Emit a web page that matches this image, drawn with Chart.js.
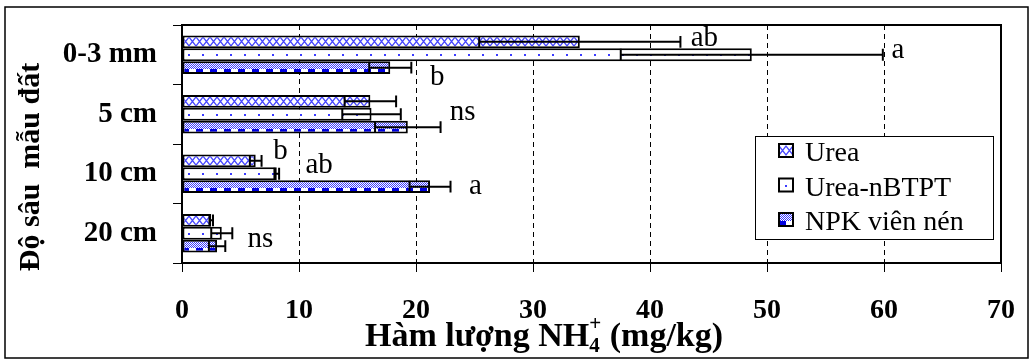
<!DOCTYPE html>
<html>
<head>
<meta charset="utf-8">
<script src="https://cdn.jsdelivr.net/npm/chart.js@4/dist/chart.umd.min.js"></script>
<style>
  html, body { margin: 0; padding: 0; background: #fff; }
  #wrap { width: 1032px; height: 363px; }
</style>
</head>
<body>
<div id="wrap"><canvas id="nh4Chart" width="1032" height="363"></canvas></div>
<script>
const depths = ["0-3 mm", "5 cm", "10 cm", "20 cm"];
const seriesNames = ["Urea", "Urea-nBTPT", "NPK viên nén"];
const ureaValues = [34.0, 16.1, 6.3, 2.5];
const nbtptValues = [48.7, 16.2, 8.1, 3.4];
const npkValues = [17.8, 19.3, 21.2, 3.0];
const ureaErrors = [8.6, 2.2, 0.5, 0.15];
const nbtptErrors = [11.2, 2.5, 0.2, 0.9];
const npkErrors = [1.8, 2.8, 1.75, 0.7];
const xTicks = [0, 10, 20, 30, 40, 50, 60, 70];
// significance letters: depth index, series index, letter
const letters = [[0, 0, "ab"], [0, 1, "a"], [0, 2, "b"], [1, 2, "ns"], [2, 0, "b"], [2, 1, "ab"], [2, 2, "a"], [3, 1, "ns"]];
// where each letter sits, relative to the end of its error bar (px)
const letterShift = [[24, -3], [15, -4], [26, 10], [22, -15], [19, -9], [40, -8], [25, 0], [28, 6]];

const SERIF = "'Liberation Serif', 'Times New Roman', serif";
const BLUE = '#3b3bff';

// pattern tiles
function tile(kind) {
  const c = document.createElement('canvas');
  c.width = 14; c.height = 13;
  const g = c.getContext('2d');
  g.fillStyle = '#fff';
  g.fillRect(0, 0, 14, 13);
  if (kind === 'cross') {
    g.strokeStyle = '#4646ff';
    g.lineWidth = 1.3;
    g.beginPath();
    g.moveTo(0, 2); g.lineTo(7, 11); g.lineTo(14, 2);
    g.moveTo(0, 11); g.lineTo(7, 2); g.lineTo(14, 11);
    g.stroke();
  } else if (kind === 'dots') {
    g.fillStyle = BLUE;
    g.fillRect(6, 6, 2, 2);
  } else {
    g.fillStyle = BLUE;
    for (let y = 0; y < 13; y++) {
      for (let x = 0; x < 14; x++) {
        if (y >= 8) {
          if (x < 7) g.fillRect(x, y, 1, 1);
        } else if ((x + y) % 2 === 0) {
          g.fillRect(x, y, 1, 1);
        }
      }
    }
    g.fillStyle = '#0000e0';
    g.fillRect(0, 8, 7, 5);
  }
  return c;
}
const tiles = { cross: tile('cross'), dots: tile('dots'), checks: tile('checks') };

function patternAt(ctx, kind, x, y) {
  const p = ctx.createPattern(tiles[kind], 'repeat');
  p.setTransform(new DOMMatrix().translate(Math.round(x), Math.round(y)));
  return p;
}

function barFill(kind) {
  return function(c) {
    const chart = c.chart;
    const ys = chart.scales.y;
    if (!ys || !chart.chartArea || c.dataIndex === undefined) return '#fff';
    const band = ys.getPixelForValue(1) - ys.getPixelForValue(0);
    const barH = band * 0.65 / 3;
    const top = ys.getPixelForValue(c.dataIndex) - band * 0.65 / 2 + c.datasetIndex * barH;
    return patternAt(chart.ctx, kind, chart.chartArea.left, top);
  };
}

const kinds = ['cross', 'dots', 'checks'];
const valueSets = [ureaValues, nbtptValues, npkValues];
const errorSets = [ureaErrors, nbtptErrors, npkErrors];

const datasets = seriesNames.map(function(name, i) {
  return {
    label: name,
    data: valueSets[i],
    errors: errorSets[i],
    backgroundColor: barFill(kinds[i]),
    borderColor: '#000',
    borderWidth: 2,
    borderSkipped: false,
    categoryPercentage: 0.65,
    barPercentage: 1.0
  };
});

const errorBars = {
  id: 'errorBars',
  afterDatasetsDraw(chart) {
    const ctx = chart.ctx, xs = chart.scales.x;
    ctx.save();
    ctx.strokeStyle = '#000';
    ctx.lineWidth = 2;
    chart.data.datasets.forEach(function(ds, i) {
      chart.getDatasetMeta(i).data.forEach(function(bar, j) {
        const v = ds.data[j], e = ds.errors[j];
        const lo = xs.getPixelForValue(v - e), hi = xs.getPixelForValue(v + e);
        const y = bar.y, h = bar.height / 2 - 0.5;
        ctx.beginPath();
        ctx.moveTo(lo, y); ctx.lineTo(hi, y);
        ctx.moveTo(lo, y - h); ctx.lineTo(lo, y + h);
        ctx.moveTo(hi, y - h); ctx.lineTo(hi, y + h);
        ctx.stroke();
      });
    });
    // letters
    ctx.fillStyle = '#000';
    ctx.font = '29px ' + SERIF;
    ctx.textAlign = 'center';
    ctx.textBaseline = 'middle';
    letters.forEach(function(l, k) {
      const ds = chart.data.datasets[l[1]];
      const bar = chart.getDatasetMeta(l[1]).data[l[0]];
      const end = xs.getPixelForValue(ds.data[l[0]] + ds.errors[l[0]]);
      ctx.fillText(l[2], end + letterShift[k][0], bar.y + letterShift[k][1]);
    });
    ctx.restore();
  }
};

const decorations = {
  id: 'decorations',
  afterDraw(chart) {
    const ctx = chart.ctx, a = chart.chartArea;
    ctx.save();
    // plot frame (top and right)
    ctx.strokeStyle = '#000';
    ctx.lineWidth = 2;
    ctx.beginPath();
    ctx.moveTo(a.left, a.top); ctx.lineTo(a.right, a.top); ctx.lineTo(a.right, a.bottom);
    ctx.stroke();
    // outer frame
    ctx.lineWidth = 1.5;
    ctx.strokeRect(5, 7, 1023, 351);

    // legend
    const lx = 755, ly = 136, lw = 238, lh = 103;
    ctx.fillStyle = '#fff';
    ctx.fillRect(lx, ly, lw, lh);
    ctx.lineWidth = 1;
    ctx.strokeRect(lx + 0.5, ly + 0.5, lw, lh);
    ctx.font = '28px ' + SERIF;
    ctx.textAlign = 'left';
    ctx.textBaseline = 'alphabetic';
    seriesNames.forEach(function(name, i) {
      const base = 161 + i * 34.5;
      const sx = 779, sy = base - 17;
      ctx.fillStyle = patternAt(ctx, kinds[i], sx, sy);
      ctx.fillRect(sx, sy, 14, 13);
      ctx.lineWidth = 2;
      ctx.strokeStyle = '#000';
      ctx.strokeRect(sx, sy, 14, 13);
      ctx.fillStyle = '#000';
      ctx.fillText(name, 805, base);
    });

    // x title with sub/superscript
    ctx.fillStyle = '#000';
    ctx.textAlign = 'left';
    const big = 'bold 34px ' + SERIF, small = 'bold 21px ' + SERIF;
    const p1 = 'Hàm lượng NH', p2 = '4', p3 = '+', p4 = ' (mg/kg)';
    ctx.font = big;
    const w1 = ctx.measureText(p1).width, w4 = ctx.measureText(p4).width;
    ctx.font = small;
    const w2 = ctx.measureText(p2).width, w3 = ctx.measureText(p3).width;
    const total = w1 + Math.max(w2, w3) + w4;
    let x = 544 - total / 2;
    const base = 346;
    ctx.font = big;
    ctx.fillText(p1, x, base);
    x += w1;
    ctx.font = small;
    ctx.fillText(p2, x, base + 6);
    ctx.fillText(p3, x, base - 16);
    x += Math.max(w2, w3);
    ctx.font = big;
    ctx.fillText(p4, x, base);

    // y title
    ctx.translate(39, 167);
    ctx.rotate(-Math.PI / 2);
    ctx.textAlign = 'center';
    ctx.font = 'bold 30px ' + SERIF;
    ctx.fillText('Độ sâu  mẫu đất', 0, 0);
    ctx.restore();
  }
};

new Chart(document.getElementById('nh4Chart'), {
  type: 'bar',
  data: { labels: depths, datasets: datasets },
  options: {
    indexAxis: 'y',
    responsive: false,
    animation: false,
    layout: { padding: { left: 5, top: 25, right: 31, bottom: 0 } },
    plugins: { legend: { display: false }, tooltip: { enabled: false } },
    scales: {
      x: {
        type: 'linear',
        min: xTicks[0],
        max: xTicks[xTicks.length - 1],
        afterBuildTicks: function(scale) { scale.ticks = xTicks.map(function(v) { return { value: v }; }); },
        afterFit: function(scale) { scale.height = 100; scale.paddingLeft = 0; scale.paddingRight = 0; },
        grid: { color: '#000', lineWidth: 1, tickLength: 9, tickColor: '#000' },
        border: { display: true, color: '#000', width: 2, dash: [5, 4] },
        ticks: { color: '#000', font: { family: SERIF, size: 28, weight: 'bold' }, padding: 22, maxRotation: 0 }
      },
      y: {
        type: 'category',
        afterFit: function(scale) { scale.width = 177; scale.paddingTop = 0; scale.paddingBottom = 0; },
        grid: { drawOnChartArea: false, color: '#000', lineWidth: 1, tickLength: 9, offset: true },
        border: { display: true, color: '#000', width: 2 },
        ticks: { color: '#000', font: { family: SERIF, size: 29, weight: 'bold' }, padding: 16 }
      }
    }
  },
  plugins: [errorBars, decorations]
});
</script>
</body>
</html>
